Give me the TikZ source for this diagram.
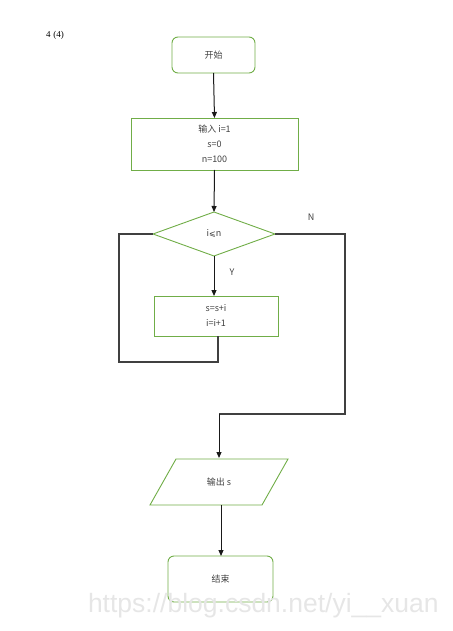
\documentclass[tikz,border=0pt]{standalone}
\usepackage{fontspec}
\setmainfont{Liberation Serif}
\newfontfamily\cjk{Noto Sans CJK SC}
\newfontfamily\wmfont{Liberation Sans}
\newfontfamily\symfont{DejaVu Sans}
\usetikzlibrary{arrows.meta,shapes.geometric}
\definecolor{flgreen}{HTML}{70AD47}
\definecolor{txtgray}{HTML}{404040}
\definecolor{wmgray}{HTML}{E6E6E6}
\begin{document}
\begin{tikzpicture}[x=1pt,y=-1pt,
  every node/.style={inner sep=0pt,outer sep=0pt},
  lbl/.style={font=\cjk\fontsize{9}{15}\selectfont,text=txtgray,align=center},
  termbox/.style={draw=flgreen,line width=0.9pt,rounded corners=6pt,lbl},
  procbox/.style={draw=flgreen,line width=0.9pt,lbl},
  flow/.style={line width=1pt,draw=black!90,-{Triangle[length=6pt,width=5pt]}},
  wire/.style={line width=1.1pt,draw=black!75}]
\useasboundingbox (0,0) rectangle (452,631);
\node[font=\fontsize{9}{10}\selectfont,anchor=west] (title) at (46,35) {4\,\,(4)};
% start
\node[termbox,minimum width=83pt,minimum height=36pt] (start) at (213.5,55) {开始};
% input
\node[procbox,minimum width=167pt,minimum height=52pt] (input) at (214.5,144) {输入 i=1\\s=0\\n=100};
% decision
\coordinate (dt) at (214,212);
\coordinate (db) at (214,256);
\coordinate (dl) at (153,234);
\coordinate (dr) at (275,234);
\draw[draw=flgreen,line width=0.9pt] (dt) -- (dr) -- (db) -- (dl) -- cycle;
\node[lbl] (cond) at (214,234) {i{\symfont\fontsize{8}{9}\selectfont ⩽}n};
% body
\node[procbox,minimum width=124pt,minimum height=40pt] (body) at (216,316) {s=s+i\\i=i+1};
% output
\coordinate (ptl) at (176,459);
\coordinate (ptr) at (288,459);
\coordinate (pbr) at (262,505);
\coordinate (pbl) at (150,505);
\draw[draw=flgreen,line width=0.9pt] (ptl) -- (ptr) -- (pbr) -- (pbl) -- cycle;
\node[lbl] (out) at (219,482) {输出 s};
% end
\node[termbox,minimum width=105pt,minimum height=46pt] (end) at (220.5,579) {结束};
% arrows
\draw[flow] (start.south) -- (input.north);
\draw[flow] (input.south) -- (dt);
\draw[flow] (db) -- (body.north -| db);
\node[lbl] (ylab) at (232,272) {Y};
\node[lbl] (nlab) at (311,217) {N};
% loop back
\coordinate (lb1) at (218,362);
\coordinate (lb2) at (119,362);
\coordinate (lb3) at (119,234);
\draw[wire] (body.south -| lb1) -- (lb1) -- (lb2) -- (lb3) -- (dl);
% N branch
\coordinate (n1) at (345,234);
\coordinate (n2) at (345,414);
\coordinate (n3) at (219,414);
\draw[wire] (dr) -- (n1) -- (n2) -- (n3);
\draw[flow] (n3) -- (219,458);
\draw[flow] (221,505) -- (end.north -| 221,0);
% watermark
\node[font=\wmfont\fontsize{26.5}{27}\selectfont,text=wmgray,anchor=west] (wm) at (88,606) {https://blog.csdn.net/yi\_\_xuan};
\end{tikzpicture}
\end{document}
